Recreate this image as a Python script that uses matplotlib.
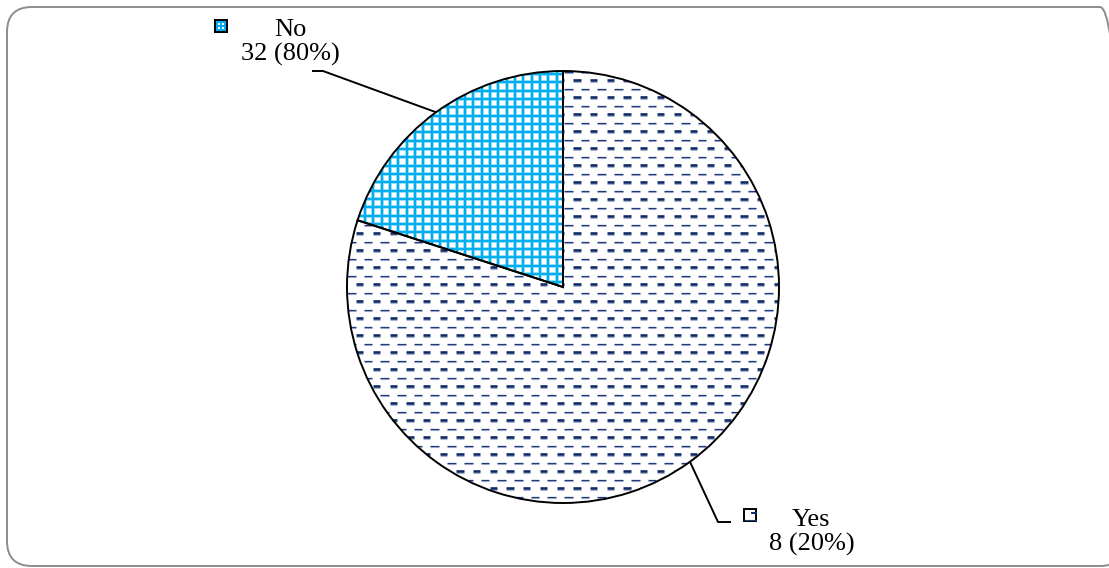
import numpy as np
import matplotlib
matplotlib.use("Agg")
import matplotlib.pyplot as plt
from matplotlib.collections import LineCollection
from matplotlib.patches import Wedge, Rectangle, FancyBboxPatch

# survey answers
slice_counts = [8, 32]          # wedges, counter-clockwise from 12 o'clock
label_names = ["No", "Yes"]
label_counts = [32, 8]

W, H = 1109, 568
total = sum(label_counts)

fig = plt.figure(figsize=(W / 100, H / 100), dpi=100)
ax = fig.add_axes([0, 0, 1, 1])

cx, cy, r = 563, H - 287, 216
wedges, _ = ax.pie(slice_counts, startangle=90, counterclock=True,
                   center=(cx, cy), radius=r,
                   wedgeprops=dict(facecolor="white", edgecolor="none", zorder=1))
ax.set_xlim(0, W)
ax.set_ylim(0, H)
ax.set_aspect("equal")
ax.axis("off")


def grid_fill(patch, x0, y0, step, x_rng, y_rng):
    segs = []
    for x in np.arange(x0, x_rng[1], step):
        if x >= x_rng[0]:
            segs.append([(x, y_rng[0]), (x, y_rng[1])])
    for y in np.arange(y0, y_rng[1], step):
        if y >= y_rng[0]:
            segs.append([(x_rng[0], y), (x_rng[1], y)])
    halo = LineCollection(segs, colors="#a9e2f7", linewidths=2.8, zorder=2)
    core = LineCollection(segs, colors="#00aeef", linewidths=1.6, zorder=2.1)
    for lc in (halo, core):
        ax.add_collection(lc)
        lc.set_clip_path(patch)


def dash_fill(patch):
    thick, thin, shade = [], [], []
    for k in range(-2, 30):
        yt = H - (80 + 17 * k)
        yn = H - (88.5 + 17 * k)
        for m in range(-16, 16):
            xt = 573.3 + 16.7 * m
            xn = 564.0 + 16.7 * m
            thick.append([(xt, yt), (xt + 7.3, yt)])
            shade.append([(xt, yt - 1.6), (xt + 7.3, yt - 1.6)])
            thin.append([(xn, yn), (xn + 8.7, yn)])
            shade.append([(xn, yn - 1.2), (xn + 8.7, yn - 1.2)])
    cols = [LineCollection(shade, colors="#aab2d0", linewidths=0.8, zorder=2),
            LineCollection(thick, colors="#0e2a66", linewidths=1.9, zorder=2.1),
            LineCollection(thin, colors="#1f3a7a", linewidths=0.9, zorder=2.1)]
    for lc in cols:
        ax.add_collection(lc)
        lc.set_clip_path(patch)


grid_fill(wedges[0], 506.67 - 8.333 * 20, H - 174 - 8.333 * 40, 8.333,
          (cx - r, cx + r), (cy - r, cy + r))
dash_fill(wedges[1])

# outlines on top of the fills
for w in wedges:
    ax.add_patch(Wedge(w.center, w.r, w.theta1, w.theta2, fill=False,
                       edgecolor="black", linewidth=1.4, zorder=3))

# labels with leader lines
text_pos = [(290, H - 42.5), (811.5, H - 532.5)]
elbows = [[(323, H - 71), (312, H - 71)], [(718, H - 522), (731, H - 522)]]
key_pos = [(221, H - 26), (750, H - 515)]

for i, w in enumerate(wedges):
    mid = np.deg2rad((w.theta1 + w.theta2) / 2)
    ex, ey = cx + r * np.cos(mid), cy + r * np.sin(mid)
    pts = [(ex, ey)] + elbows[i]
    ax.plot([p[0] for p in pts], [p[1] for p in pts], color="black",
            linewidth=1.4, zorder=4, solid_capstyle="butt")
    pct = round(100 * label_counts[i] / total)
    ax.text(*text_pos[i], f"{label_names[i]}\n{label_counts[i]} ({pct}%)",
            ha="center", va="center", fontsize=19, family="Liberation Serif",
            linespacing=1.12, zorder=5)

# legend keys
kx, ky = key_pos[0]
key0 = Rectangle((kx - 6, ky - 6), 12, 12, facecolor="white", edgecolor="black",
                 linewidth=1.4, zorder=5)
ax.add_patch(key0)
for d in (-4, 0, 4):
    ax.plot([kx + d, kx + d], [ky - 6, ky + 6], color="#00aeef", lw=1.4, zorder=5.1,
            clip_path=key0)
    ax.plot([kx - 6, kx + 6], [ky + d, ky + d], color="#00aeef", lw=1.4, zorder=5.1,
            clip_path=key0)
ax.add_patch(Rectangle((kx - 6, ky - 6), 12, 12, fill=False, edgecolor="black",
                       linewidth=1.4, zorder=5.2))

kx, ky = key_pos[1]
ax.add_patch(Rectangle((kx - 6, ky - 6), 12, 12, facecolor="white", edgecolor="black",
                       linewidth=1.4, zorder=5))
ax.plot([kx + 2, kx + 5.5], [ky + 2, ky + 2], color="#0e2a66", lw=1.4, zorder=5.1)
ax.plot([kx - 5.5, kx + 5.5], [ky - 5, ky - 5], color="#1f3a7a", lw=0.8, zorder=5.1)

# rounded frame
ax.add_patch(FancyBboxPatch((7, H - 566), 1118, 559,
                            boxstyle="round,pad=0,rounding_size=25",
                            fill=False, edgecolor="#8c8c8c", linewidth=1.4, zorder=6))

fig.savefig("out.png", dpi=100)
